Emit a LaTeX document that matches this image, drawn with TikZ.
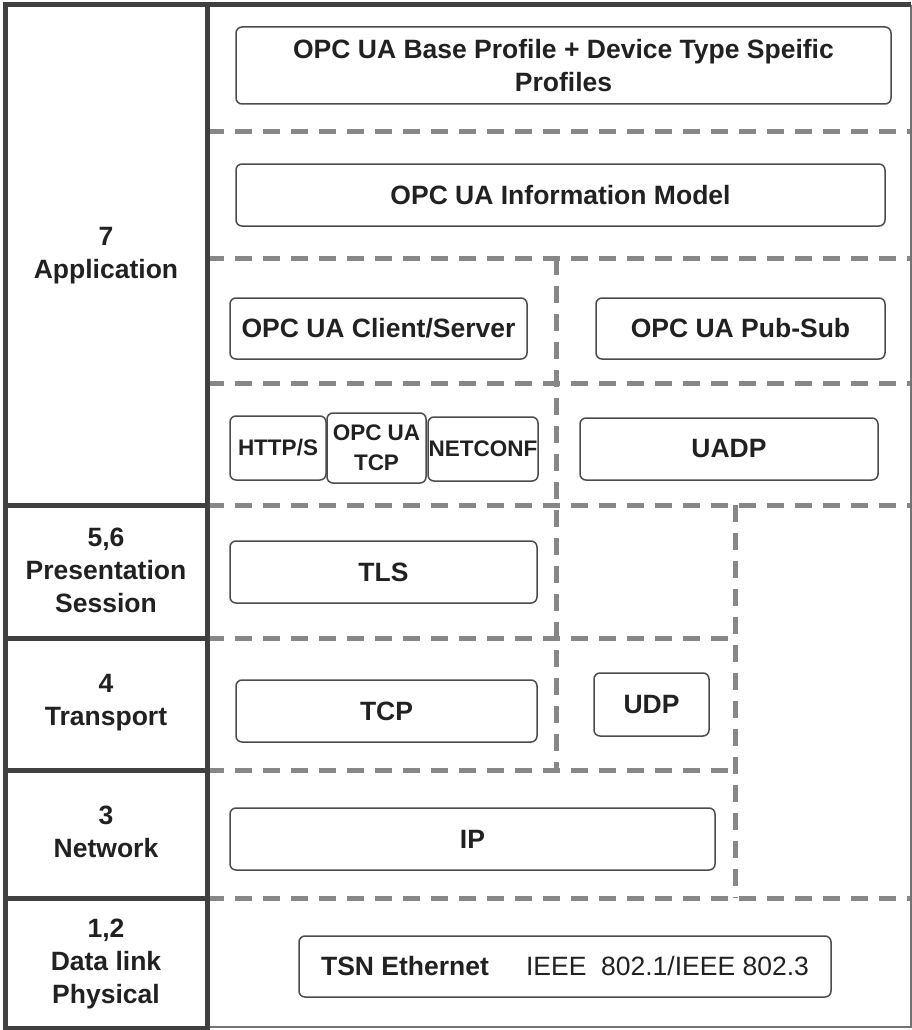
\documentclass[tikz,border=0pt]{standalone}
\usepackage{fontspec}
\setmainfont{Liberation Sans}
\usepackage{tikz}

\begin{document}
\begin{tikzpicture}[x=1pt,y=-1pt]
\tikzstyle{every node}=[font=\fontsize{26.5}{33}\selectfont\bfseries,text=black!87,align=center]
\tikzstyle{box}=[draw=black!70,line width=1.5pt,rounded corners=6pt,inner sep=0pt]
\tikzstyle{small}=[font=\fontsize{22.5}{30}\selectfont\bfseries]
\tikzstyle{sep}=[draw=black!47,line width=5pt,dash pattern=on 17pt off 11pt]
\tikzstyle{frame}=[draw=black!75,line width=5pt]
\useasboundingbox (0,0) rectangle (912,1030);

% dashed layer borders
\draw[sep](207,132)--(911,132);
\draw[sep](207,258)--(911,258);
\draw[sep](207,383)--(911,383);
\draw[sep](207,505)--(911,505);
\draw[sep](207,638)--(735,638);
\draw[sep](207,770)--(735,770);
\draw[sep](207,898)--(911,898);
\draw[sep](556,258)--(556,770);
\draw[sep](735,505)--(735,898);

% outer frame and layer column
\draw[draw=black!55,line width=1.5pt](911,5)--(911,1027)--(207,1027);
\draw[frame](5,5)--(911,5);
\draw[frame](5,5) rectangle (207,1028);
\foreach \y in {505,638,770,898} \draw[frame](5,\y)--(207,\y);

% layer names
\node (app) at (106,256) {7\\Application};
\node (pres) at (106,570) {5,6\\Presentation\\Session};
\node (trans) at (106,703) {4\\Transport};
\node (net) at (106,832) {3\\Network};
\node (phy) at (106,964) {1,2\\Data link\\Physical};

% protocol boxes
\node[box,minimum width=655,minimum height=77] (base) at (563.5,65.5) {OPC UA Base Profile + Device Type Speific\\Profiles};
\node[box,minimum width=649,minimum height=62] (infomodel) at (560.5,195) {OPC UA Information Model};
\node[box,minimum width=297,minimum height=61] (clientserver) at (378.5,328.5) {OPC UA Client/Server};
\node[box,minimum width=289,minimum height=61] (pubsub) at (740.5,328.5) {OPC UA Pub-Sub};
\node[box,small,minimum width=96,minimum height=64] (https) at (278,448) {HTTP/S};
\node[box,small,minimum width=99,minimum height=70] (uatcp) at (376.5,448) {OPC UA\\TCP};
\node[box,small,minimum width=110,minimum height=64] (netconf) at (483,449) {NETCONF};
\node[box,minimum width=298,minimum height=62] (uadp) at (729,449) {UADP};
\node[box,minimum width=307,minimum height=62] (tls) at (383.5,572) {TLS};
\node[box,minimum width=301,minimum height=62] (tcp) at (386.5,711) {TCP};
\node[box,minimum width=115,minimum height=63] (udp) at (651.5,704.5) {UDP};
\node[box,minimum width=485,minimum height=62] (ip) at (472.5,839) {IP};
\node[box,minimum width=532,minimum height=61] (tsn) at (565,966.5) {TSN Ethernet\hspace{1.4em}\mdseries IEEE\ \ 802.1/IEEE 802.3};

\end{tikzpicture}
\end{document}
